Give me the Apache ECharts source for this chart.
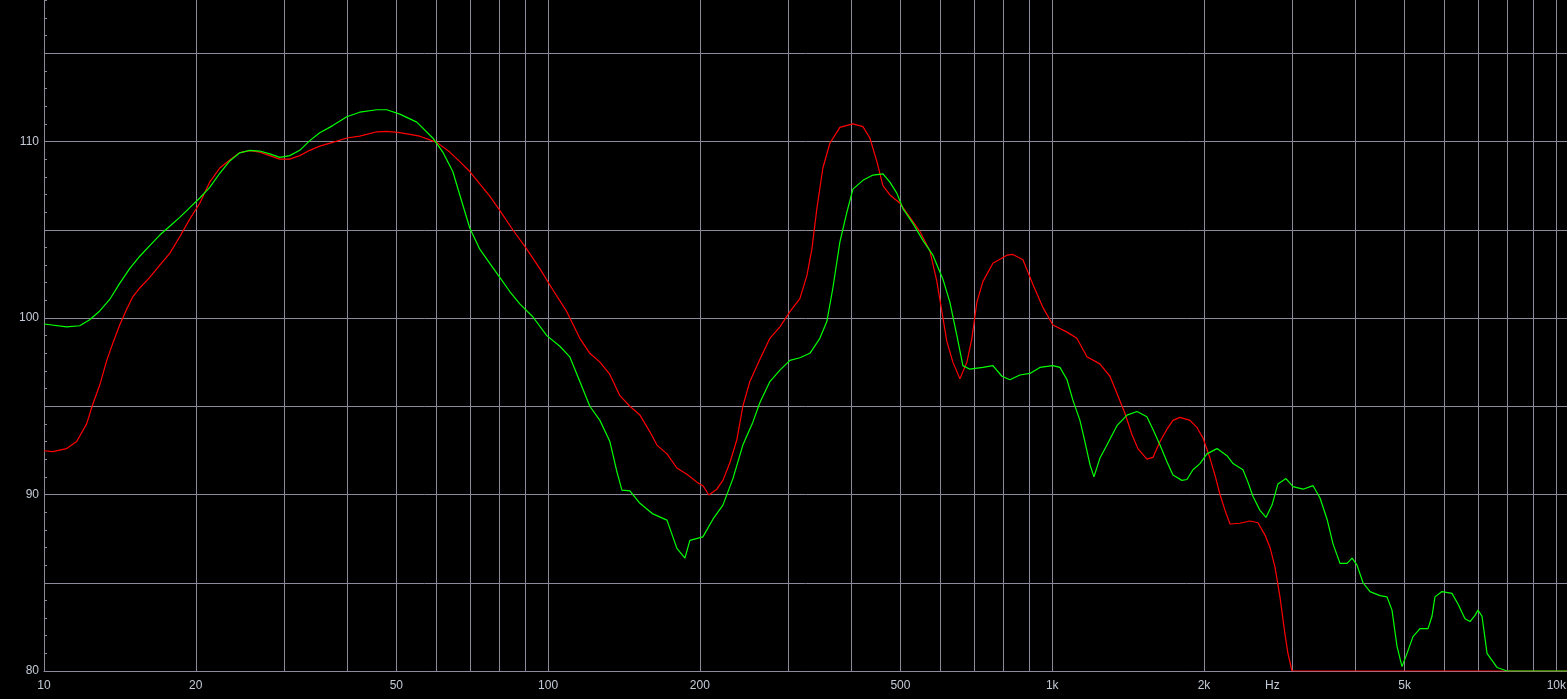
<!DOCTYPE html>
<html><head><meta charset="utf-8">
<script src="https://cdn.jsdelivr.net/npm/echarts@6/dist/echarts.min.js"></script>
<style>html,body{margin:0;padding:0;background:#000}#c{width:1567px;height:699px}</style>
</head><body><div id="c"></div>
<script>
const redFreq = [10,10.4,11.09,11.61,12.15,12.49,12.9,13.32,13.69,14.13,14.59,15.0,15.49,16.21,16.97,17.76,18.59,19.46,20.37,21.32,22.32,23.36,24.45,25.6,26.79,28.04,29.36,30.73,32.16,33.67,35.24,37.39,39.87,42.3,45.73,47.86,50.79,55.65,60.14,63.82,66.8,69.92,73.19,76.61,80.19,85.1,90.72,96.28,102.17,108.9,115.6,121.0,126.7,132.6,138.8,145.3,152.1,159.2,164.4,172.1,180.1,188.5,197.3,202.8,208.4,216.1,222.2,229.4,236.8,243.4,251.3,263.0,275.4,288.3,301.8,315.8,326.1,333.6,341.3,350.8,362.2,379.1,402.4,421.2,434.8,449.0,461.5,476.5,498.8,522.1,546.5,572.0,590.5,604.2,618.1,635.3,656.0,677.3,692.9,708.9,728.6,762.7,813.1,835.7,874.8,915.7,958.4,1003,1070,1119,1172,1243,1302,1350,1394,1439,1479,1541,1584,1636,1689,1736,1792,1876,1937,1991,2056,2103,2152,2202,2253,2357,2467,2560,2643,2704,2766,2830,2895,2935,2990,10500];
const redDb = [92.48,92.43,92.6,93.0,94.0,95.1,96.2,97.6,98.56,99.6,100.5,101.2,101.7,102.3,103.0,103.66,104.6,105.6,106.5,107.7,108.5,108.95,109.37,109.48,109.4,109.2,109.0,109.0,109.2,109.5,109.74,109.95,110.2,110.3,110.55,110.57,110.5,110.3,109.95,109.4,108.86,108.3,107.6,106.9,106.1,105.0,103.9,102.8,101.6,100.36,98.85,98.0,97.5,96.8,95.6,95.0,94.5,93.55,92.8,92.3,91.5,91.15,90.7,90.5,89.97,90.3,90.8,91.8,93.1,95.0,96.4,97.65,98.85,99.5,100.36,101.1,102.4,103.9,106.2,108.5,109.9,110.8,111.0,110.84,110.2,108.86,107.5,106.97,106.5,105.7,104.9,103.8,102.06,100.36,98.66,97.5,96.55,97.5,98.85,100.9,102.06,103.1,103.56,103.6,103.3,101.9,100.6,99.6,99.2,98.85,97.8,97.4,96.7,95.6,94.6,93.4,92.6,92.0,92.1,93.0,93.7,94.2,94.37,94.2,93.8,93.2,92.05,91.1,90.0,89.1,88.33,88.37,88.5,88.4,87.7,87.0,85.9,84.2,82.1,81.0,80.0,80.0];
const greenFreq = [10,11.09,11.77,12.32,12.9,13.5,14.13,14.79,15.49,16.21,16.97,17.76,18.59,19.46,20.37,21.32,22.32,23.36,24.45,25.6,26.79,28.04,29.36,30.73,32.16,33.67,35.24,37.39,39.87,42.3,45.73,47.86,50.79,54.89,59.05,61.81,64.7,67.41,69.92,73.19,76.61,80.19,83.94,87.87,93.24,99.41,105.5,110.4,115.6,121.0,126.7,132.6,136.9,140.1,145.3,152.1,161.4,172.1,180.1,186.8,191.1,202.8,212.3,222.2,232.6,243.4,254.8,263.0,275.4,288.3,301.8,315.8,330.6,346.0,357.2,367.2,379.1,391.5,402.4,421.2,440.9,461.5,476.5,492.0,505.7,529.3,554.0,579.9,607.0,626.6,647.0,665.0,686.6,728.6,762.7,794.7,824.4,862.9,903.2,945.4,1003,1036,1070,1099,1135,1161,1188,1210,1243,1284,1344,1407,1473,1541,1584,1636,1689,1736,1808,1850,1902,1964,2027,2123,2222,2284,2390,2445,2501,2583,2655,2729,2804,2909,3004,3145,3292,3398,3509,3606,3723,3845,3934,4024,4136,4270,4470,4615,4721,4830,4942,5056,5196,5365,5565,5667,5745,5932,6209,6382,6589,6742,6898,6993,7122,7287,7455,7627,7984,10500];
const greenDb = [99.66,99.5,99.56,99.9,100.4,101.05,101.96,102.8,103.5,104.1,104.7,105.2,105.7,106.25,106.8,107.4,108.2,108.9,109.36,109.5,109.46,109.3,109.1,109.2,109.5,110.05,110.5,110.9,111.4,111.66,111.8,111.8,111.55,111.1,110.2,109.4,108.3,106.6,105.1,103.9,103.1,102.3,101.5,100.8,100.07,99.0,98.4,97.8,96.4,95.0,94.2,93.0,91.3,90.25,90.2,89.5,88.9,88.55,86.95,86.4,87.4,87.6,88.6,89.4,90.9,92.8,94.1,95.2,96.4,97.05,97.6,97.75,98.0,98.85,99.8,101.7,104.3,106.0,107.3,107.8,108.1,108.17,107.7,107.06,106.2,105.36,104.4,103.56,102.2,100.9,99.0,97.3,97.1,97.2,97.3,96.7,96.5,96.77,96.86,97.2,97.3,97.2,96.5,95.35,94.2,93.0,91.7,91.0,92.05,92.8,93.9,94.5,94.7,94.4,93.7,92.8,91.85,91.1,90.8,90.85,91.4,91.75,92.3,92.6,92.2,91.75,91.4,90.7,89.9,89.1,88.7,89.4,90.6,90.9,90.45,90.3,90.5,89.8,88.6,87.2,86.1,86.1,86.4,86.0,85.0,84.5,84.27,84.2,83.45,81.4,80.25,81.0,81.95,82.4,82.4,83.1,84.2,84.5,84.4,83.8,82.96,82.8,83.15,83.45,83.1,81.0,80.6,80.2,80.0,80.0];
const gridFreqs = [10,20,30,40,50,60,70,80,90,100,200,300,400,500,600,700,800,900,1000,2000,3000,4000,5000,6000,7000,8000,9000,10000];
const xLabelFreqs = [10,20,50,100,200,500,1000,2000,5000,10000];
const yLabelValues = [80,90,100,110];
const unitText = 'Hz';

const labelColor = '#c4ccd8';
const gridColor = '#8e8a9c';
const fontFamily = 'Liberation Sans';

function fmtHz(v) { return v >= 1000 ? (Math.round(v / 1000)) + 'k' : String(Math.round(v)); }
function pairs(fs, ds) { return fs.map((f, i) => [f, ds[i]]); }

const chart = echarts.init(document.getElementById('c'), null, { renderer: 'canvas' });
chart.setOption({
  animation: false,
  backgroundColor: '#000000',
  grid: { left: 44, right: 0, top: -35, bottom: 28, containLabel: false, outerBoundsMode: 'none' },
  xAxis: {
    type: 'log', logBase: 10, min: 10, max: 10500,
    axisLine: { show: true, lineStyle: { color: gridColor, width: 1 } },
    axisTick: { show: false, customValues: gridFreqs },
    axisLabel: { customValues: xLabelFreqs, formatter: fmtHz, color: labelColor, fontFamily: fontFamily, fontSize: 12, margin: 9 },
    splitLine: { show: true, lineStyle: { color: gridColor, width: 1 } },
    minorTick: { show: false }, minorSplitLine: { show: false }
  },
  yAxis: {
    type: 'value', min: 80, max: 120, interval: 5,
    axisLine: { show: true, lineStyle: { color: gridColor, width: 1 } },
    axisTick: { show: true, inside: true, length: 3, lineStyle: { color: gridColor } },
    minorTick: { show: true, splitNumber: 5, length: 3, lineStyle: { color: gridColor } },
    axisLabel: {
      color: labelColor, fontFamily: fontFamily, fontSize: 12, margin: 5,
      formatter: v => (yLabelValues.indexOf(v) >= 0 ? String(v) : '')
    },
    splitLine: { show: true, lineStyle: { color: gridColor, width: 1 } }
  },
  graphic: [{
    type: 'text', left: 1265, top: 680,
    style: { text: unitText, fill: labelColor, font: '12px "Liberation Sans"' }
  }],
  series: [
    { type: 'line', name: 'red', data: pairs(redFreq, redDb), showSymbol: false, symbol: 'none',
      lineStyle: { color: '#ff0000', width: 1.2 }, itemStyle: { color: '#ff0000' }, z: 2 },
    { type: 'line', name: 'green', data: pairs(greenFreq, greenDb), showSymbol: false, symbol: 'none',
      lineStyle: { color: '#00ff00', width: 1.2 }, itemStyle: { color: '#00ff00' }, z: 3 }
  ]
});
</script></body></html>
